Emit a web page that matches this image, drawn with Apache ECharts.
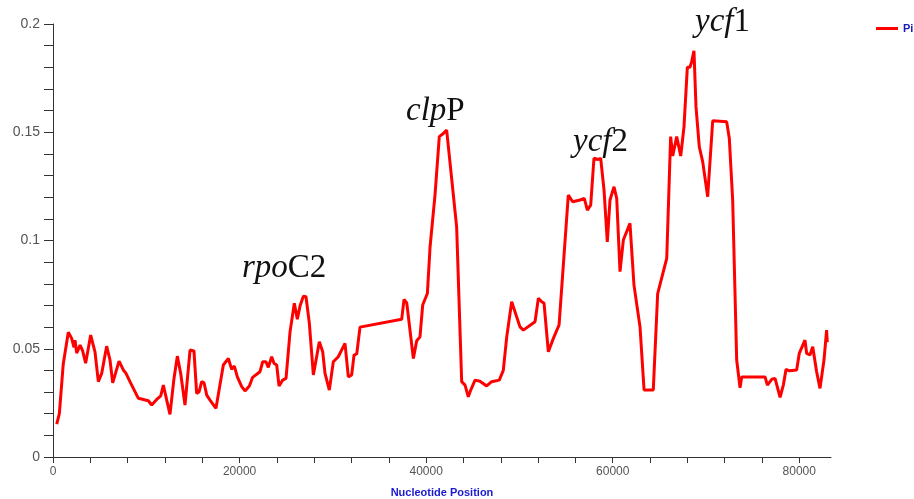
<!DOCTYPE html>
<html>
<head>
<meta charset="utf-8">
<script src="https://cdn.jsdelivr.net/npm/echarts@6/dist/echarts.min.js"></script>
<style>
html,body{margin:0;padding:0;background:#fff;}
#c{width:914px;height:499px;}
</style>
</head>
<body>
<div id="c"></div>
<script>
// Nucleotide positions (window midpoints) and Pi values
const positions = [
400,680,1100,1640,2000,2250,2360,2540,2900,3180,3500,4040,4500,4860,5220,5750,6110,6400,6650,7080,
7290,7540,7830,8250,9150,10220,10580,11120,11550,11830,12190,12540,12720,12970,13330,13690,14150,14330,14690,15110,
15400,15650,15940,16190,16480,16830,17470,18260,18800,19150,19440,19760,20230,20580,21050,21400,22190,22480,22830,23080,
23440,23690,23980,24230,24620,24980,25410,25870,26190,26480,26840,27120,27480,27910,28550,28910,29160,29620,30050,30580,
31300,31660,32020,32270,32560,32910,37380,37630,37920,38630,38990,39340,39630,40130,40420,40950,41410,41840,42200,43270,
43810,44170,44520,44780,45240,45770,46490,47020,47840,48270,48640,49170,50060,50420,51670,52030,52390,52640,53100,53640,
54250,55240,55710,56500,56960,57280,57640,57990,58460,58710,59070,59420,59710,60140,60430,60780,61140,61850,62280,62930,
63360,64350,64820,65790,66210,66430,66860,67290,67640,68000,68280,68460,68710,68930,69280,69650,70180,70720,72220,72500,
72860,73290,73650,73830,76330,76580,77050,77400,77940,78290,78580,78930,79720,80000,80610,80790,81150,81440,81860,82220,
82650,82930,83000
];
const piValues = [
0.0152,0.020,0.043,0.0576,0.0548,0.0506,0.054,0.048,0.0517,0.049,0.0433,0.0563,0.0486,0.0348,0.0386,0.0512,0.0448,0.0343,0.0379,0.0443,
0.0445,0.0402,0.0386,0.0348,0.0271,0.026,0.024,0.0266,0.0282,0.0332,0.0263,0.0197,0.0201,0.0363,0.0466,0.0386,0.024,0.0245,0.0494,0.049,
0.0294,0.030,0.0348,0.0343,0.0286,0.0263,0.0225,0.0425,0.0455,0.0405,0.042,0.037,0.0325,0.0305,0.0328,0.0368,0.0394,0.044,0.044,0.0414,
0.0463,0.0433,0.0425,0.0328,0.0355,0.0363,0.0578,0.071,0.0636,0.0697,0.0743,0.074,0.0617,0.0379,0.0532,0.0486,0.0386,0.0309,0.044,0.0463,
0.0525,0.037,0.0379,0.0471,0.0476,0.060,0.0636,0.0728,0.0712,0.0455,0.0537,0.0555,0.0702,0.0755,0.097,0.121,0.148,0.1494,0.151,0.1063,
0.0348,0.0332,0.0278,0.0309,0.0355,0.035,0.0328,0.0348,0.0355,0.040,0.0555,0.0717,0.0601,0.0586,0.0625,0.0733,0.0717,0.071,0.0486,0.0548,
0.061,0.121,0.1179,0.1187,0.1194,0.114,0.1163,0.138,0.1374,0.138,0.1233,0.0994,0.1187,0.1248,0.1194,0.0856,0.1002,0.1079,0.0794,0.060,
0.031,0.031,0.0755,0.0917,0.148,0.139,0.148,0.139,0.1525,0.18,0.18,0.1825,0.1876,0.1617,0.1433,0.1363,0.1202,0.1553,0.1548,0.1471,
0.1187,0.0448,0.032,0.037,0.037,0.0332,0.0359,0.0363,0.0276,0.0332,0.0405,0.0398,0.0402,0.0479,0.054,0.0479,0.0471,0.0509,0.0394,0.0317,
0.0448,0.0586,0.053
];
const xTickValues = [0,4000,8000,12000,16000,20000,24000,28000,32000,36000,40000,44000,48000,52000,56000,60000,64000,68000,72000,76000,80000];
const xLabelValues = [0,20000,40000,60000,80000];
const yLabelValues = [0,0.05,0.1,0.15,0.2];
const seriesName = 'Pi';
const xAxisTitle = 'Nucleotide Position';

const data = positions.map((p,i)=>[p,piValues[i]]);

const chart = echarts.init(document.getElementById('c'));
const serif = '"Liberation Serif","Times New Roman",serif';
const sans = '"Liberation Sans",Arial,sans-serif';
function richGene(size){
  return {
    i:{fontStyle:'italic',fontFamily:serif,fontSize:size,fill:'#111'},
    n:{fontStyle:'normal',fontFamily:serif,fontSize:size,fill:'#111'}
  };
}
chart.setOption({
  animation:false,
  backgroundColor:'#fff',
  grid:{left:53,top:24,right:83,bottom:42,containLabel:false,outerBoundsMode:'none'},
  legend:{
    left:871, top:18,
    icon:'rect', itemWidth:22, itemHeight:3, itemGap:5,
    textStyle:{color:'#1a1ab8',fontWeight:'bold',fontSize:11,fontFamily:sans},
    data:[seriesName]
  },
  xAxis:{
    type:'value', min:0, max:83400, interval:4000,
    name:xAxisTitle, nameLocation:'middle', nameGap:30,
    nameTextStyle:{color:'#1a1ad0',fontWeight:'bold',fontSize:11,fontFamily:sans},
    axisLine:{show:true,lineStyle:{color:'#333',width:1}},
    axisTick:{show:true,inside:false,length:6,customValues:xTickValues,lineStyle:{color:'#333'}},
    axisLabel:{customValues:xLabelValues,formatter:function(v){return String(Math.round(v));},color:'#555',fontSize:12,margin:9,fontFamily:sans},
    splitLine:{show:false}
  },
  yAxis:{
    type:'value', min:0, max:0.2, interval:0.01,
    axisLine:{show:true,lineStyle:{color:'#333',width:1}},
    axisTick:{show:true,inside:false,length:9,lineStyle:{color:'#333'}},
    axisLabel:{customValues:yLabelValues,formatter:function(v){return String(Math.round(v*100)/100);},color:'#555',fontSize:14,margin:13,fontFamily:sans},
    splitLine:{show:false}
  },
  series:[{
    name:seriesName, type:'line', data:data,
    showSymbol:false, symbol:'none',
    lineStyle:{color:'#ff0000',width:3},
    itemStyle:{color:'#ff0000'}
  }],
  graphic:[
    {type:'text',x:242,y:285,style:{text:'{i|rpo}{n|C2}',rich:richGene(33),verticalAlign:'bottom',align:'left'}},
    {type:'text',x:406,y:128,style:{text:'{i|clp}{n|P}',rich:richGene(33),verticalAlign:'bottom',align:'left'}},
    {type:'text',x:573,y:159,style:{text:'{i|ycf}{n|2}',rich:richGene(33),verticalAlign:'bottom',align:'left'}},
    {type:'text',x:695,y:39,style:{text:'{i|ycf}{n|1}',rich:richGene(33),verticalAlign:'bottom',align:'left'}}
  ]
});
</script>
</body>
</html>
